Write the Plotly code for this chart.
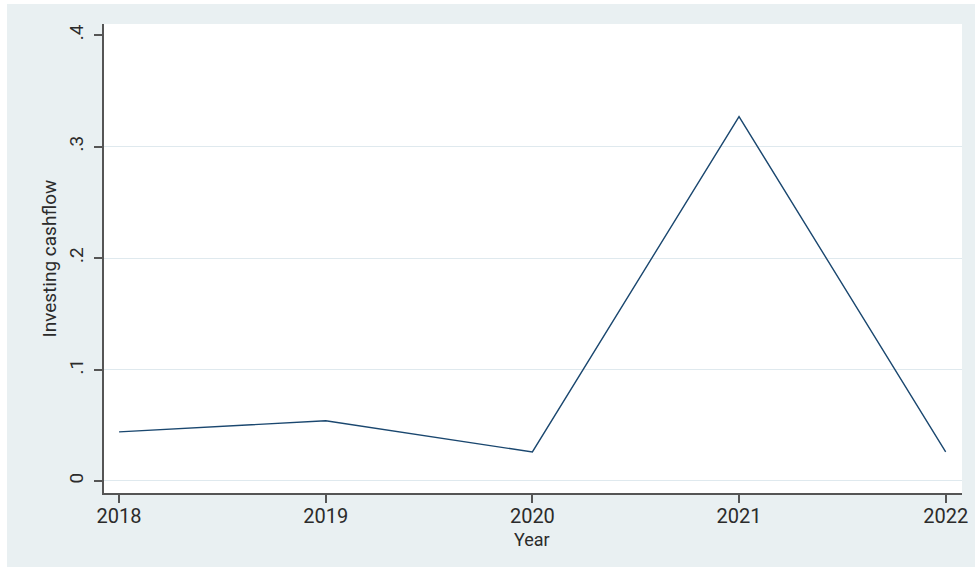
import plotly.graph_objects as go

# Investing cashflow by year
years = [2018, 2019, 2020, 2021, 2022]
investing_cashflow = [0.044, 0.054, 0.026, 0.327, 0.026]

y_ticks = [0, 0.1, 0.2, 0.3, 0.4]
y_tick_text = ["0", ".1", ".2", ".3", ".4"]
grid_ticks = [0, 0.1, 0.2, 0.3]

BG = "#E9F0F2"
LINE = "#1A476F"
AXIS = "#555555"
TEXT = "#2b2b2b"
FONT = "Roboto"

x_range = [2017.927, 2022.079]
y_range = [-0.0108, 0.41]

fig = go.Figure()

# invisible trace that carries the gridline axis
fig.add_trace(go.Scatter(
    x=years, y=investing_cashflow, yaxis="y2", mode="lines",
    line=dict(width=0), opacity=0, hoverinfo="skip", showlegend=False,
))

fig.add_trace(go.Scatter(
    x=years, y=investing_cashflow, mode="lines",
    line=dict(color=LINE, width=1.4), showlegend=False,
))

W, H = 975, 567
L, R, T, B = 104, 13, 24, 74
pw, ph = W - L - R, H - T - B

fig.update_layout(
    width=W, height=H,
    margin=dict(l=L, r=R, t=T, b=B, autoexpand=False),
    paper_bgcolor=BG,
    plot_bgcolor="white",
    font=dict(family=FONT, color=TEXT),
    xaxis=dict(
        range=x_range, tickvals=years, ticktext=[str(y) for y in years],
        showgrid=False, zeroline=False, automargin=False,
        showline=True, linecolor=AXIS, linewidth=2,
        ticks="outside", ticklen=8, tickwidth=1.5, tickcolor=AXIS,
        ticklabelstandoff=-4,
        tickfont=dict(size=20, color=TEXT, family=FONT),
    ),
    yaxis=dict(
        range=y_range, tickvals=y_ticks, ticktext=y_tick_text,
        showgrid=False, zeroline=False, automargin=False,
        showline=True, linecolor=AXIS, linewidth=2,
        ticks="outside", ticklen=8, tickwidth=1.5, tickcolor=AXIS,
        tickangle=-90, ticklabelstandoff=3,
        tickfont=dict(size=19, color=TEXT, family=FONT),
    ),
    yaxis2=dict(
        range=y_range, overlaying="y", side="left", automargin=False,
        tickvals=grid_ticks, showticklabels=False, ticks="",
        showgrid=True, gridcolor="#DFE9EE", gridwidth=1,
        zeroline=False, showline=False,
    ),
    shapes=[
        # white page margin at the top and left
        dict(type="rect", xref="paper", yref="paper", layer="below",
             x0=-L / pw, x1=(W - L) / pw, y0=1 + (T - 4) / ph, y1=1 + T / ph + 0.01,
             fillcolor="white", line=dict(width=0)),
        dict(type="rect", xref="paper", yref="paper", layer="below",
             x0=-L / pw - 0.01, x1=(7 - L) / pw, y0=-B / ph - 0.01, y1=1 + T / ph + 0.01,
             fillcolor="white", line=dict(width=0)),
    ],
    annotations=[
        dict(text="Investing cashflow", xref="paper", yref="paper",
             x=(49 - L) / pw, y=0.5, textangle=-90, showarrow=False,
             xanchor="center", yanchor="middle",
             font=dict(size=19, color=TEXT, family=FONT)),
        dict(text="Year", xref="paper", yref="paper",
             x=(532 - L) / pw, y=-(539 - (H - B)) / ph, showarrow=False,
             xanchor="center", yanchor="middle",
             font=dict(size=18, color=TEXT, family=FONT)),
    ],
)

fig.write_html("out.html")
